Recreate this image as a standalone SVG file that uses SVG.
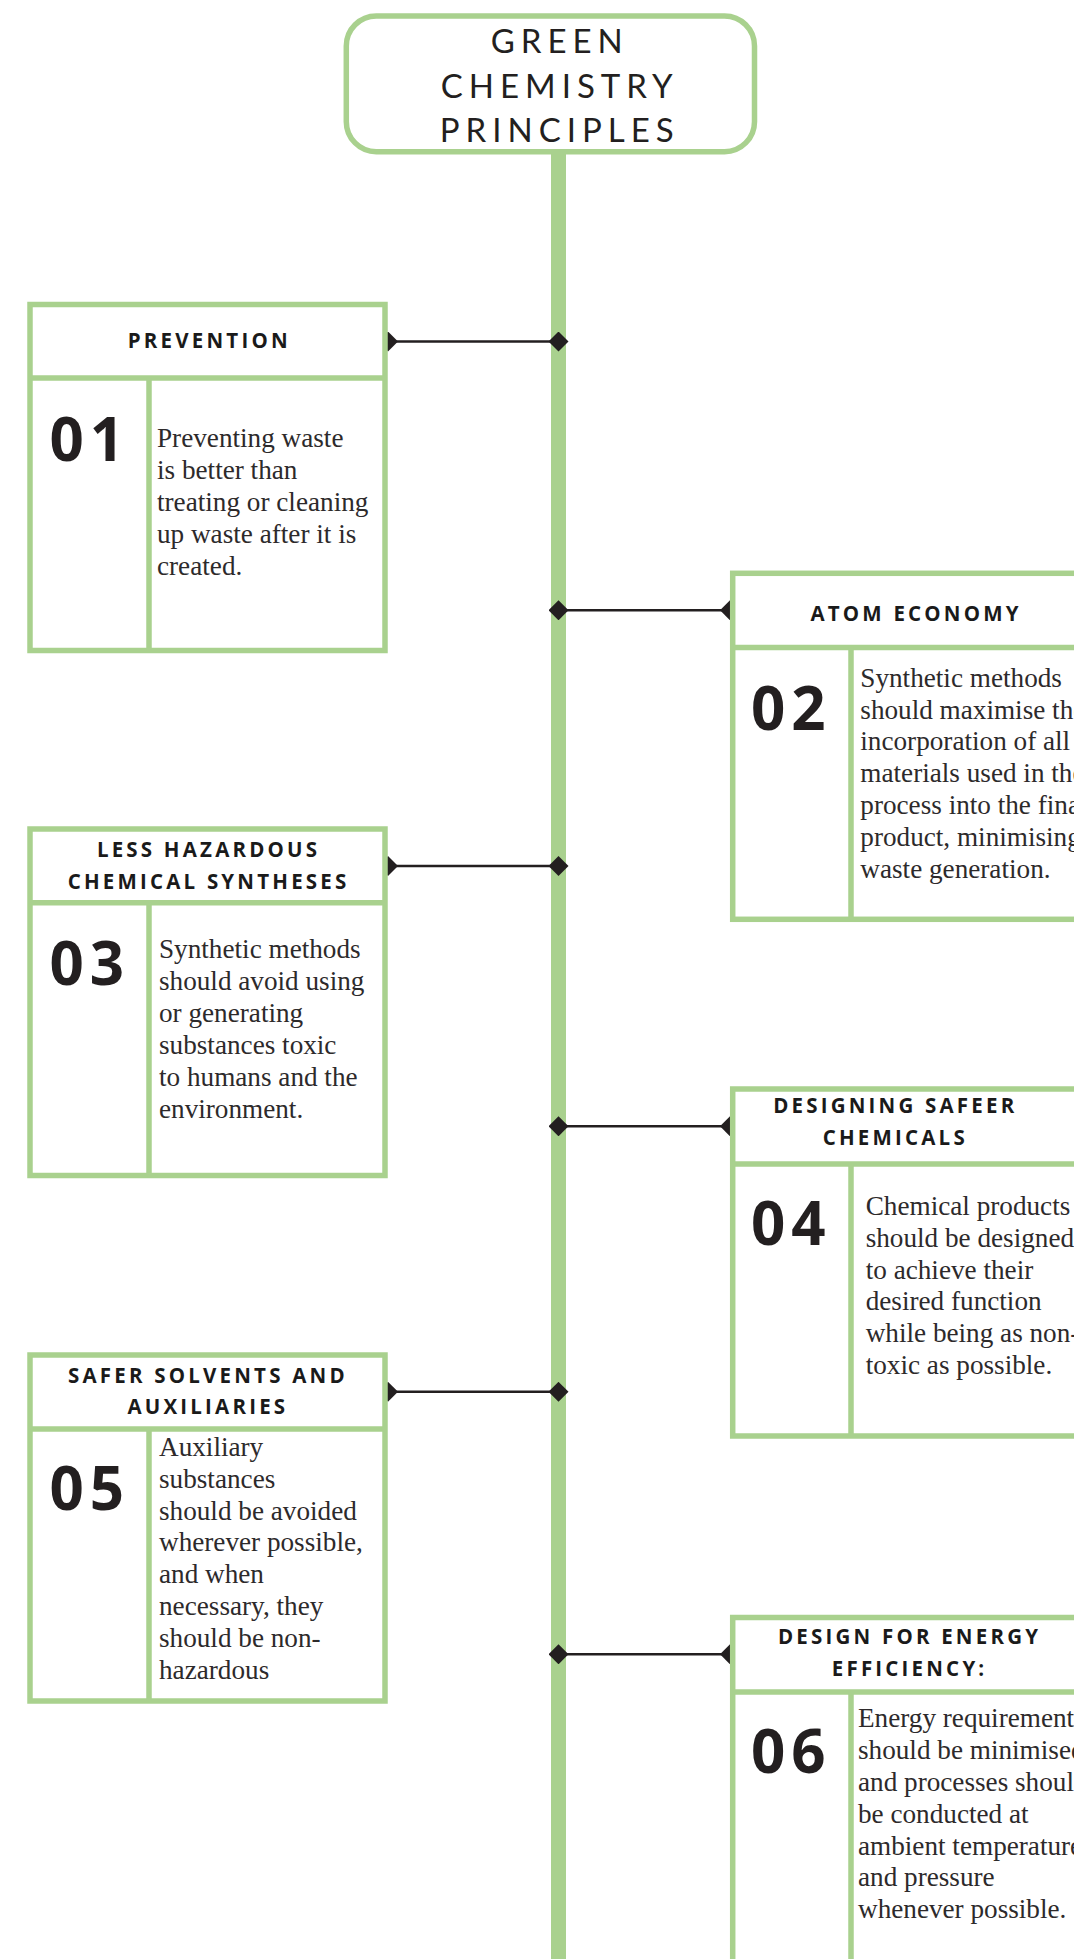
<svg xmlns="http://www.w3.org/2000/svg" width="1074" height="1959" viewBox="0 0 1074 1959">
<style>
.box{fill:#fff;stroke:#a9d18e;stroke-width:5.5}
.sep{stroke:#a9d18e;stroke-width:5.5;fill:none}
.hdr{font-family:"Open Sans",sans-serif;font-weight:700;font-size:20.5px;letter-spacing:3.2px;fill:#1a1a1a;text-anchor:middle}
.num{font-family:"Open Sans",sans-serif;font-weight:700;font-size:60px;letter-spacing:6px;fill:#231f20}
.txt{font-family:"Liberation Serif",serif;font-size:27.2px;fill:#2d2a2b}
.title{font-family:Lato,sans-serif;font-weight:400;font-size:33px;letter-spacing:6px;fill:#231f20;text-anchor:middle}
.conn{stroke:#231f20;stroke-width:2.5;fill:none;marker-start:url(#dia);marker-end:url(#dia)}
.spine{stroke:#a9d18e;stroke-width:15}
</style>
<defs>
<marker id="dia" markerUnits="userSpaceOnUse" markerWidth="20" markerHeight="20" refX="10" refY="10" orient="auto">
<path d="M0,10 L10,0 L20,10 L10,20 Z" fill="#231f20"/>
</marker>
</defs>
<rect width="1074" height="1959" fill="#fff"/>
<g id="connectors">
<line class="spine" x1="558.5" y1="150" x2="558.5" y2="1959"/>
<line class="conn" x1="388" y1="341.5" x2="558.5" y2="341.5"/>
<line class="conn" x1="730" y1="610.3" x2="558.5" y2="610.3"/>
<line class="conn" x1="388" y1="866" x2="558.5" y2="866"/>
<line class="conn" x1="730" y1="1126.3" x2="558.5" y2="1126.3"/>
<line class="conn" x1="388" y1="1391.8" x2="558.5" y2="1391.8"/>
<line class="conn" x1="730" y1="1654.3" x2="558.5" y2="1654.3"/>
</g>
<g id="title">
<rect class="box" x="346.3" y="16" width="408.2" height="135.7" rx="30" ry="30"/>
<text class="title" x="559.7" y="53.3">GREEN</text>
<text class="title" x="559.7" y="98.3">CHEMISTRY</text>
<text class="title" x="559.7" y="141.7">PRINCIPLES</text>
</g>
<g id="node-01">
<rect class="box" x="30" y="304.5" width="355" height="346"/>
<line class="sep" x1="30" y1="378" x2="385" y2="378"/>
<line class="sep" x1="149" y1="378" x2="149" y2="650.5"/>
<text class="hdr" x="209.3" y="347.7">PREVENTION</text>
<text class="num" x="49.5" y="460.5">01</text>
<text class="txt" x="157" y="446.7"><tspan x="157">Preventing waste</tspan><tspan x="157" dy="32">is better than</tspan><tspan x="157" dy="32">treating or cleaning</tspan><tspan x="157" dy="32">up waste after it is</tspan><tspan x="157" dy="32">created.</tspan></text>
</g>
<g id="node-02">
<rect class="box" x="732.7" y="573.3" width="355" height="346"/>
<line class="sep" x1="732.7" y1="647.5" x2="1087.7" y2="647.5"/>
<line class="sep" x1="851" y1="647.5" x2="851" y2="919.3"/>
<text class="hdr" x="916.1" y="621">ATOM ECONOMY</text>
<text class="num" x="751" y="730">02</text>
<text class="txt" x="860.3" y="686.7"><tspan x="860.3">Synthetic methods</tspan><tspan x="860.3" dy="31.8">should maximise the</tspan><tspan x="860.3" dy="31.8">incorporation of all</tspan><tspan x="860.3" dy="31.8">materials used in the</tspan><tspan x="860.3" dy="31.8">process into the final</tspan><tspan x="860.3" dy="31.8">product, minimising</tspan><tspan x="860.3" dy="31.8">waste generation.</tspan></text>
</g>
<g id="node-03">
<rect class="box" x="30" y="829" width="355" height="346.5"/>
<line class="sep" x1="30" y1="902.7" x2="385" y2="902.7"/>
<line class="sep" x1="149" y1="902.7" x2="149" y2="1175.5"/>
<text class="hdr" x="208.6" y="857.3">LESS HAZARDOUS</text>
<text class="hdr" x="208.6" y="888.7">CHEMICAL SYNTHESES</text>
<text class="num" x="49.5" y="985">03</text>
<text class="txt" x="159" y="958.3"><tspan x="159">Synthetic methods</tspan><tspan x="159" dy="31.9">should avoid using</tspan><tspan x="159" dy="31.9">or generating</tspan><tspan x="159" dy="31.9">substances toxic</tspan><tspan x="159" dy="31.9">to humans and the</tspan><tspan x="159" dy="31.9">environment.</tspan></text>
</g>
<g id="node-04">
<rect class="box" x="732.7" y="1089" width="355" height="347"/>
<line class="sep" x1="732.7" y1="1164" x2="1087.7" y2="1164"/>
<line class="sep" x1="851" y1="1164" x2="851" y2="1436"/>
<text class="hdr" x="895.3" y="1113.3">DESIGNING SAFEER</text>
<text class="hdr" x="895.3" y="1145">CHEMICALS</text>
<text class="num" x="751" y="1245">04</text>
<text class="txt" x="865.7" y="1215"><tspan x="865.7">Chemical products</tspan><tspan x="865.7" dy="31.8">should be designed</tspan><tspan x="865.7" dy="31.8">to achieve their</tspan><tspan x="865.7" dy="31.8">desired function</tspan><tspan x="865.7" dy="31.8">while being as non-</tspan><tspan x="865.7" dy="31.8">toxic as possible.</tspan></text>
</g>
<g id="node-05">
<rect class="box" x="30" y="1355" width="355" height="346"/>
<line class="sep" x1="30" y1="1429" x2="385" y2="1429"/>
<line class="sep" x1="149" y1="1429" x2="149" y2="1701"/>
<text class="hdr" x="207.9" y="1382.7">SAFER SOLVENTS AND</text>
<text class="hdr" x="207.9" y="1414.3">AUXILIARIES</text>
<text class="num" x="49.5" y="1510">05</text>
<text class="txt" x="159" y="1456"><tspan x="159">Auxiliary</tspan><tspan x="159" dy="31.8">substances</tspan><tspan x="159" dy="31.8">should be avoided</tspan><tspan x="159" dy="31.8">wherever possible,</tspan><tspan x="159" dy="31.8">and when</tspan><tspan x="159" dy="31.8">necessary, they</tspan><tspan x="159" dy="31.8">should be non-</tspan><tspan x="159" dy="31.8">hazardous</tspan></text>
</g>
<g id="node-06">
<rect class="box" x="732.7" y="1617.5" width="355" height="346"/>
<line class="sep" x1="732.7" y1="1692" x2="1087.7" y2="1692"/>
<line class="sep" x1="851" y1="1692" x2="851" y2="1963.5"/>
<text class="hdr" x="909.6" y="1644">DESIGN FOR ENERGY</text>
<text class="hdr" x="909.6" y="1676">EFFICIENCY:</text>
<text class="num" x="751" y="1772.7">06</text>
<text class="txt" x="858" y="1727.3"><tspan x="858">Energy requirements</tspan><tspan x="858" dy="31.8">should be minimised</tspan><tspan x="858" dy="31.8">and processes should</tspan><tspan x="858" dy="31.8">be conducted at</tspan><tspan x="858" dy="31.8">ambient temperature</tspan><tspan x="858" dy="31.8">and pressure</tspan><tspan x="858" dy="31.8">whenever possible.</tspan></text>
</g>
</svg>
